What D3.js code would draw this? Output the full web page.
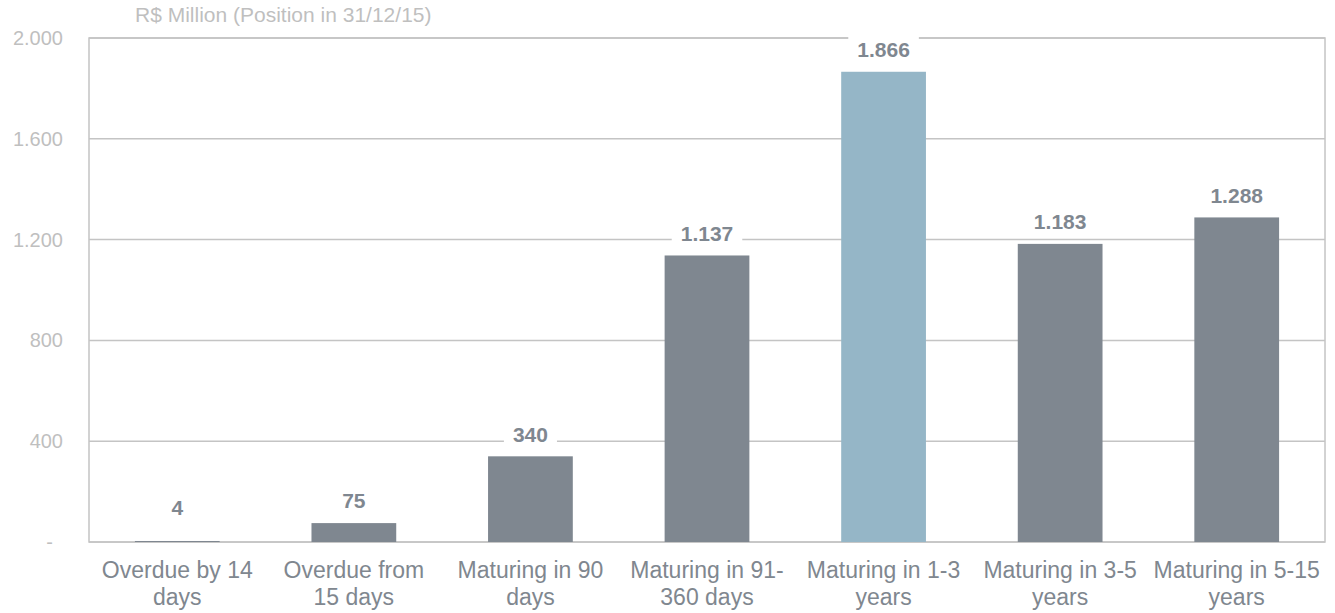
<!DOCTYPE html>
<html>
<head>
<meta charset="utf-8">
<script src="https://cdn.jsdelivr.net/npm/d3@7"></script>
<style>
  html, body { margin: 0; padding: 0; background: #fff; }
  svg { display: block; font-family: "Liberation Sans", Arial, sans-serif; }
</style>
</head>
<body>
<svg id="chart" width="1335" height="613"></svg>
<script>
// Portfolio maturity profile, R$ million
const categories = [
  ["Overdue by 14", "days"],
  ["Overdue from", "15 days"],
  ["Maturing in 90", "days"],
  ["Maturing in 91-", "360 days"],
  ["Maturing in 1-3", "years"],
  ["Maturing in 3-5", "years"],
  ["Maturing in 5-15", "years"]
];
const values = [4, 75, 340, 1137, 1866, 1183, 1288];
const highlighted = [false, false, false, false, true, false, false];
const yTicks = [0, 400, 800, 1200, 1600, 2000];
const unitLabel = "R$ Million (Position in 31/12/15)";

const svg = d3.select("#chart");
const margin = { left: 89, right: 10, top: 38, bottom: 71 };
const W = 1335, H = 613;
const innerW = W - margin.left - margin.right;
const innerH = H - margin.top - margin.bottom;

const fmt = v => v === 0 ? "-" : d3.format(",")(v).replace(/,/g, ".");

const x = d3.scaleBand()
  .domain(d3.range(categories.length))
  .range([margin.left, margin.left + innerW])
  .paddingInner(0.52)
  .paddingOuter(0.26);

const y = d3.scaleLinear()
  .domain([0, 2000])
  .range([margin.top + innerH, margin.top]);

// horizontal gridlines
svg.append("g")
  .selectAll("line")
  .data(yTicks)
  .join("line")
  .attr("x1", margin.left)
  .attr("x2", margin.left + innerW)
  .attr("y1", d => y(d))
  .attr("y2", d => y(d))
  .attr("stroke", "#c4c4c4")
  .attr("stroke-width", 1.5);

// frame
svg.append("rect")
  .attr("x", margin.left)
  .attr("y", margin.top)
  .attr("width", innerW)
  .attr("height", innerH)
  .attr("fill", "none")
  .attr("stroke", "#c4c4c4")
  .attr("stroke-width", 1.5);

// y axis labels (accounting style: zero shown as an indented dash)
const yAxis = d3.axisLeft(y).tickValues(yTicks).tickFormat(fmt).tickSize(0).tickPadding(26);
const gy = svg.append("g").attr("transform", `translate(${margin.left},0)`).call(yAxis);
gy.select(".domain").remove();
gy.selectAll("text")
  .attr("fill", "#bfbfbf")
  .style("font-size", "20px")
  .attr("dx", d => d === 0 ? -10 : 0);

// bars
svg.append("g")
  .selectAll("rect")
  .data(values)
  .join("rect")
  .attr("x", (d, i) => x(i))
  .attr("width", x.bandwidth())
  .attr("y", d => y(d))
  .attr("height", d => y(0) - y(d))
  .attr("fill", (d, i) => highlighted[i] ? "#95b6c7" : "#7f8790");

// value labels with white backing
const labelY = d => Math.min(y(d), y(0) - 12) - 22;
const lbl = svg.append("g")
  .selectAll("g")
  .data(values)
  .join("g")
  .attr("transform", (d, i) => `translate(${x(i) + x.bandwidth() / 2},${labelY(d)})`);
lbl.append("rect").attr("fill", "#fff");
const lt = lbl.append("text")
  .attr("text-anchor", "middle")
  .attr("dy", "0.35em")
  .attr("fill", "#7f8790")
  .style("font-size", "21px")
  .style("font-weight", "bold")
  .text(d => fmt(d));
lt.each(function () {
  const b = this.getBBox();
  d3.select(this.parentNode).select("rect")
    .attr("x", b.x - 9)
    .attr("y", b.y - 3)
    .attr("width", b.width + 18)
    .attr("height", b.height + 6);
});

// category labels
const xl = svg.append("g")
  .selectAll("text")
  .data(categories)
  .join("text")
  .attr("x", (d, i) => x(i) + x.bandwidth() / 2)
  .attr("y", 578)
  .attr("text-anchor", "middle")
  .attr("fill", "#80878f")
  .style("font-size", "23px");
xl.selectAll("tspan")
  .data(d => d)
  .join("tspan")
  .attr("x", function () { return this.parentNode.getAttribute("x"); })
  .attr("dy", (d, j) => j === 0 ? 0 : 26.5)
  .text(d => d);

// unit caption
svg.append("text")
  .attr("x", 135)
  .attr("y", 22)
  .attr("fill", "#bfbfbf")
  .style("font-size", "21px")
  .text(unitLabel);
</script>
</body>
</html>
